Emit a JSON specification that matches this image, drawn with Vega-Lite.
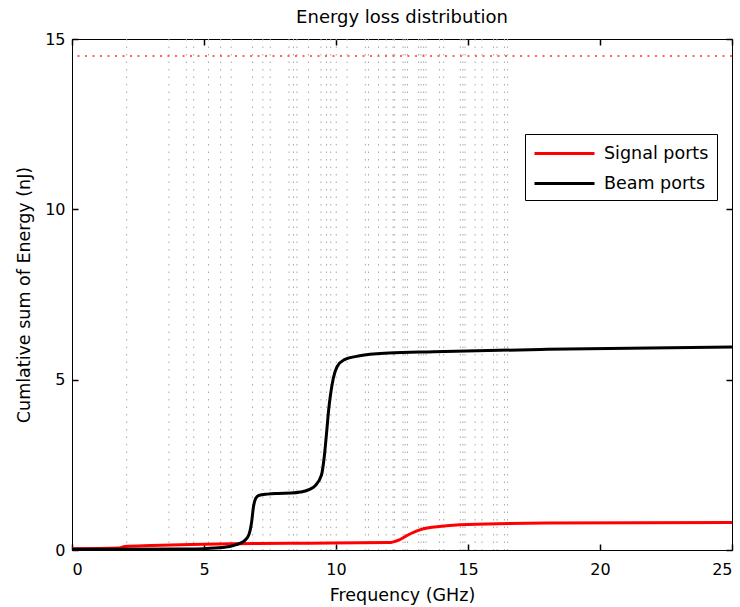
{
  "$schema": "https://vega.github.io/schema/vega-lite/v6.json",
  "width": 660,
  "height": 511,
  "autosize": {"type": "none"},
  "padding": {"left": 72, "top": 39, "right": 8, "bottom": 57},
  "background": "white",
  "title": {"text": "Energy loss distribution", "font": "DejaVu Sans", "fontSize": 18, "fontWeight": "normal", "color": "black", "offset": 4},
  "config": {
    "view": {"stroke": "black", "strokeWidth": 1},
    "axis": {"labelFont": "DejaVu Sans", "titleFont": "DejaVu Sans", "labelFontSize": 16, "titleFontSize": 17.5, "titleFontWeight": "normal", "labelColor": "black", "titleColor": "black", "domainColor": "black", "tickColor": "black", "grid": false}
  },
  "datasets": {
    "vlines": [
      {"f": 2.07}, {"f": 3.67}, {"f": 4.33}, {"f": 4.61}, {"f": 5.17}, {"f": 5.63}, {"f": 6.03}, {"f": 6.84}, {"f": 7.23}, {"f": 7.51}, {"f": 8.22}, {"f": 8.39}, {"f": 8.52}, {"f": 8.96}, {"f": 9.43}, {"f": 9.64}, {"f": 9.8}, {"f": 10.01}, {"f": 10.42}, {"f": 11.11}, {"f": 11.23}, {"f": 11.61}, {"f": 11.9}, {"f": 12.16}, {"f": 12.22}, {"f": 12.54}, {"f": 12.62}, {"f": 12.71}, {"f": 13.13}, {"f": 13.22}, {"f": 13.32}, {"f": 13.41}, {"f": 13.92}, {"f": 14.08}, {"f": 14.71}, {"f": 14.81}, {"f": 14.89}, {"f": 15.27}, {"f": 15.53}, {"f": 15.97}, {"f": 16.1}, {"f": 16.38}, {"f": 16.5}
    ],
    "curves": [
      {"series": "Signal ports", "f": 0, "e": 0.04},
      {"series": "Signal ports", "f": 1.8, "e": 0.06},
      {"series": "Signal ports", "f": 2.0, "e": 0.1},
      {"series": "Signal ports", "f": 3.0, "e": 0.13},
      {"series": "Signal ports", "f": 4.5, "e": 0.16},
      {"series": "Signal ports", "f": 6.0, "e": 0.18},
      {"series": "Signal ports", "f": 7.0, "e": 0.19},
      {"series": "Signal ports", "f": 9.0, "e": 0.2},
      {"series": "Signal ports", "f": 12.0, "e": 0.22},
      {"series": "Signal ports", "f": 12.4, "e": 0.3},
      {"series": "Signal ports", "f": 12.8, "e": 0.47},
      {"series": "Signal ports", "f": 13.2, "e": 0.6},
      {"series": "Signal ports", "f": 14.0, "e": 0.7},
      {"series": "Signal ports", "f": 15.0, "e": 0.75},
      {"series": "Signal ports", "f": 18.0, "e": 0.79},
      {"series": "Signal ports", "f": 25.0, "e": 0.81},
      {"series": "Beam ports", "f": 0, "e": 0.02},
      {"series": "Beam ports", "f": 2, "e": 0.02},
      {"series": "Beam ports", "f": 4, "e": 0.03},
      {"series": "Beam ports", "f": 5, "e": 0.04},
      {"series": "Beam ports", "f": 5.7, "e": 0.07},
      {"series": "Beam ports", "f": 6.2, "e": 0.15},
      {"series": "Beam ports", "f": 6.5, "e": 0.25},
      {"series": "Beam ports", "f": 6.7, "e": 0.45},
      {"series": "Beam ports", "f": 6.8, "e": 0.8},
      {"series": "Beam ports", "f": 6.88, "e": 1.3},
      {"series": "Beam ports", "f": 6.95, "e": 1.5},
      {"series": "Beam ports", "f": 7.07, "e": 1.6},
      {"series": "Beam ports", "f": 7.4, "e": 1.64},
      {"series": "Beam ports", "f": 7.8, "e": 1.66},
      {"series": "Beam ports", "f": 8.3, "e": 1.67},
      {"series": "Beam ports", "f": 8.65, "e": 1.7},
      {"series": "Beam ports", "f": 9.0, "e": 1.78},
      {"series": "Beam ports", "f": 9.2, "e": 1.88},
      {"series": "Beam ports", "f": 9.45, "e": 2.2},
      {"series": "Beam ports", "f": 9.55, "e": 2.7},
      {"series": "Beam ports", "f": 9.65, "e": 3.5},
      {"series": "Beam ports", "f": 9.72, "e": 4.1},
      {"series": "Beam ports", "f": 9.8, "e": 4.6},
      {"series": "Beam ports", "f": 9.9, "e": 5.05},
      {"series": "Beam ports", "f": 10.04, "e": 5.38},
      {"series": "Beam ports", "f": 10.3, "e": 5.58},
      {"series": "Beam ports", "f": 10.9, "e": 5.7},
      {"series": "Beam ports", "f": 12.0, "e": 5.78},
      {"series": "Beam ports", "f": 13.7, "e": 5.82},
      {"series": "Beam ports", "f": 18.0, "e": 5.89},
      {"series": "Beam ports", "f": 25.0, "e": 5.96}
    ],
    "hline": [{"e": 14.5}]
  },
  "layer": [
    {
      "data": {"name": "vlines"},
      "mark": {"type": "rule", "color": "#a8a8a8", "strokeWidth": 1, "strokeDash": [1.5, 6]},
      "encoding": {
        "x": {"field": "f", "type": "quantitative", "scale": {"domain": [0, 25], "nice": false},
          "axis": {"orient": "top", "labels": false, "title": null, "values": [0, 5, 10, 15, 20, 25], "tickSize": -6, "tickWidth": 1.5, "domain": false}}
      }
    },
    {
      "data": {"name": "hline"},
      "mark": {"type": "rule", "color": "#ff3030", "strokeWidth": 1.5, "strokeDash": [2, 5.5]},
      "encoding": {
        "y": {"field": "e", "type": "quantitative", "scale": {"domain": [0, 15], "nice": false},
          "axis": {"orient": "right", "labels": false, "title": null, "values": [0, 5, 10, 15], "tickSize": -6, "tickWidth": 1.5, "domain": false}}
      }
    },
    {
      "data": {"name": "curves"},
      "mark": {"type": "line", "strokeWidth": 3, "interpolate": "monotone"},
      "encoding": {
        "x": {"field": "f", "type": "quantitative", "scale": {"domain": [0, 25], "nice": false},
          "axis": {"orient": "bottom", "title": "Frequency (GHz)", "values": [0, 5, 10, 15, 20, 25], "tickSize": -6, "tickWidth": 1.5, "labelPadding": 17, "titlePadding": 9}},
        "y": {"field": "e", "type": "quantitative", "scale": {"domain": [0, 15], "nice": false},
          "axis": {"orient": "left", "title": "Cumlative sum of Energy (nJ)", "values": [0, 5, 10, 15], "tickSize": -6, "tickWidth": 1.5, "labelPadding": 13, "titlePadding": 11}},
        "color": {"field": "series", "type": "nominal",
          "scale": {"domain": ["Signal ports", "Beam ports"], "range": ["#ff0000", "#000000"]},
          "legend": {"title": null, "orient": "none", "legendX": 453, "legendY": 95, "symbolType": "M-1,0H5", "symbolSize": 400, "symbolStrokeWidth": 3, "labelFont": "DejaVu Sans", "labelFontSize": 17.5, "labelColor": "black", "strokeColor": "black", "fillColor": "white", "padding": 8, "rowPadding": 10, "labelOffset": 48}},
        "order": {"field": "f", "type": "quantitative"}
      }
    }
  ],
  "resolve": {"axis": {"x": "independent", "y": "independent"}}
}
